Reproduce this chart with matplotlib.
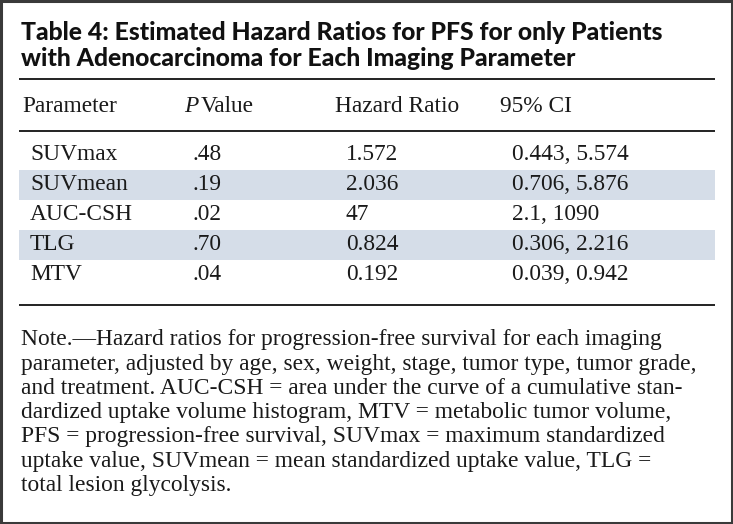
import matplotlib
matplotlib.use("Agg")
import matplotlib.pyplot as plt
from matplotlib.patches import Rectangle

# ---- data ----
title_lines = ["Table 4: Estimated Hazard Ratios for PFS for only Patients",
               "with Adenocarcinoma for Each Imaging Parameter"]
headers = ["Parameter", "Value", "Hazard Ratio", "95% CI"]
parameters = ["SUVmax", "SUVmean", "AUC-CSH", "TLG", "MTV"]
p_values = [".48", ".19", ".02", ".70", ".04"]
hazard_ratios = ["1.572", "2.036", "47", "0.824", "0.192"]
ci_95 = ["0.443, 5.574", "0.706, 5.876", "2.1, 1090", "0.306, 2.216", "0.039, 0.942"]
note_lines = [
    "Note.\u2014Hazard ratios for progression-free survival for each imaging",
    "parameter, adjusted by age, sex, weight, stage, tumor type, tumor grade,",
    "and treatment. AUC-CSH = area under the curve of a cumulative stan-",
    "dardized uptake volume histogram, MTV = metabolic tumor volume,",
    "PFS = progression-free survival, SUVmax = maximum standardized",
    "uptake value, SUVmean = mean standardized uptake value, TLG =",
    "total lesion glycolysis.",
]

W, H = 733, 524
fig = plt.figure(figsize=(W / 100, H / 100), dpi=100)
ax = fig.add_axes([0, 0, 1, 1])
ax.set_xlim(0, W)
ax.set_ylim(H, 0)
ax.axis("off")

SERIF = "Liberation Serif"
TITLE = "Lato"
band_color = "#D5DDE8"
txt = "#1a1a1a"
left, right = 19, 715

# frame
ax.add_patch(Rectangle((1, 1), W - 2, H - 2, fill=False, edgecolor="#3a3a3a", lw=2.2))

# title
for i, line in enumerate(title_lines):
    ax.text(21, 33 + i * 26, line, fontsize=17.8, fontweight="black", family=TITLE,
            va="center", ha="left", color="#111111")

# rules
for y in (79, 131, 305):
    ax.plot([left, right], [y, y], color="#222222", lw=1.4, solid_capstyle="butt")

# header
hy = 107
fs = 16.8
ax.text(22, hy, headers[0], fontsize=fs, family=SERIF, va="center", color=txt)
pt = ax.text(184, hy, "P", fontsize=fs, family=SERIF, style="italic", va="center", color=txt)
fig.canvas.draw()
bb = pt.get_window_extent()
ax.text(bb.x1 + 2, hy, headers[1], fontsize=fs, family=SERIF, va="center", color=txt)
ax.text(335, hy, headers[2], fontsize=fs, family=SERIF, va="center", color=txt)
ax.text(500, hy, headers[3], fontsize=fs, family=SERIF, va="center", color=txt)

# rows
row0, row_h = 155, 30
for i in range(len(parameters)):
    y = row0 + i * row_h
    if i % 2 == 1:
        ax.add_patch(Rectangle((left, y - row_h / 2), right - left, row_h,
                               facecolor=band_color, edgecolor="none", zorder=0))
    for x, val in zip((30, 193, 346, 512),
                      (parameters[i], p_values[i], hazard_ratios[i], ci_95[i])):
        ax.text(x, y, val, fontsize=fs, family=SERIF, va="center", color=txt)

# note
for i, line in enumerate(note_lines):
    ax.text(21, 340 + i * 24.2, line, fontsize=16.9, family=SERIF, va="center", color=txt)

fig.savefig("out.png", dpi=100)
